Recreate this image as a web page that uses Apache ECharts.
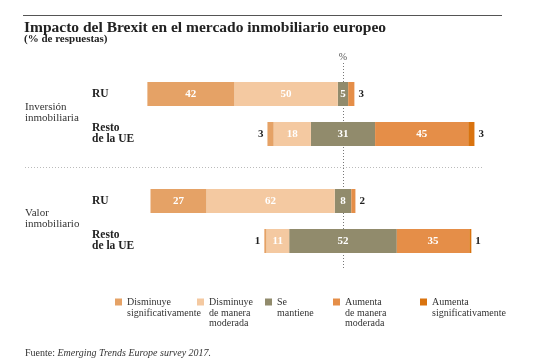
<!DOCTYPE html>
<html>
<head>
<meta charset="utf-8">
<script src="https://cdn.jsdelivr.net/npm/echarts@6/dist/echarts.min.js"></script>
<style>html,body{margin:0;padding:0;background:#fff}#c{width:555px;height:362px}</style>
</head>
<body>
<div id="c"></div>
<script>
const groups = ['Inversión\ninmobiliaria', 'Valor\ninmobiliario'];
const rows = ['RU', 'Resto\nde la UE'];
const seriesNames = ['Disminuye\nsignificativamente', 'Disminuye\nde manera\nmoderada', 'Se\nmantiene', 'Aumenta\nde manera\nmoderada', 'Aumenta\nsignificativamente'];
const colors = ['#E5A266', '#F4C9A1', '#918B6C', '#E58E48', '#D9730F'];
// order: Inversión-RU, Inversión-Resto UE, Valor-RU, Valor-Resto UE
const disminuyeSignif = [42, 3, 27, 1];
const disminuyeModer = [50, 18, 62, 11];
const seMantiene = [5, 31, 8, 52];
const aumentaModer = [3, 45, 2, 35];
const aumentaSignif = [0, 3, 0, 1];

const SERIF = 'Liberation Serif';
const chart = echarts.init(document.getElementById('c'), null, {renderer: 'canvas'});

function itemFor(v, sign) {
  const item = {value: sign * v};
  if (v === 0) { item.label = {show: false}; }
  else if (v <= 3) {
    item.label = {show: true, position: sign < 0 ? 'left' : 'right', distance: 4,
      color: '#222', fontWeight: 'bold'};
  } else {
    item.label = {show: true, position: 'inside', color: '#fff', fontWeight: 'bold'};
  }
  return item;
}

const grids = [], xAxes = [], yAxes = [], series = [];
for (let g = 0; g < 2; g++) {
  grids.push({left: 136, width: 414, top: g === 0 ? 74 : 181, height: 80});
  xAxes.push({gridIndex: g, type: 'value', min: -100, max: 100, show: false});
  yAxes.push({gridIndex: g, type: 'category', data: rows, inverse: true,
    axisLine: {show: false}, axisTick: {show: false}, splitLine: {show: false},
    axisLabel: {align: 'left', margin: 44, fontFamily: SERIF, fontWeight: 'bold', fontSize: 11.5,
      color: '#222', lineHeight: 11, padding: [4, 0, 0, 0]}});
  const idx = [2 * g, 2 * g + 1];
  const base = {type: 'bar', xAxisIndex: g, yAxisIndex: g, stack: 'tot' + g, barWidth: 24, zlevel: 1,
    silent: true, label: {fontFamily: SERIF, fontSize: 11, formatter: p => String(Math.abs(p.value))}};
  // negative side (nearest zero first)
  series.push(Object.assign({}, base, {name: 'sm-neg', itemStyle: {color: colors[2]},
    data: idx.map(i => ({value: -seMantiene[i] / 2, label: {show: false}}))}));
  series.push(Object.assign({}, base, {name: seriesNames[1], itemStyle: {color: colors[1]},
    data: idx.map(i => itemFor(disminuyeModer[i], -1))}));
  series.push(Object.assign({}, base, {name: seriesNames[0], itemStyle: {color: colors[0]},
    data: idx.map(i => itemFor(disminuyeSignif[i], -1))}));
  // positive side
  series.push(Object.assign({}, base, {name: seriesNames[2], itemStyle: {color: colors[2]},
    label: {show: true, position: [0, '50%'], align: 'center', verticalAlign: 'middle',
      fontFamily: SERIF, fontSize: 11, fontWeight: 'bold', color: '#fff',
      formatter: p => String(seMantiene[idx[p.dataIndex]])},
    data: idx.map(i => seMantiene[i] / 2)}));
  series.push(Object.assign({}, base, {name: seriesNames[3], itemStyle: {color: colors[3]},
    data: idx.map(i => itemFor(aumentaModer[i], 1))}));
  series.push(Object.assign({}, base, {name: seriesNames[4], itemStyle: {color: colors[4]},
    data: idx.map(i => itemFor(aumentaSignif[i], 1))}));
}

chart.setOption({
  animation: false,
  textStyle: {fontFamily: SERIF},
  grid: grids, xAxis: xAxes, yAxis: yAxes, series: series
});

const x0 = chart.convertToPixel({xAxisIndex: 0}, 0);
const graphics = [
  {type: 'line', shape: {x1: 23, y1: 15.5, x2: 502, y2: 15.5}, style: {stroke: '#555', lineWidth: 1}},
  {type: 'text', x: 24, y: 28, style: {text: 'Impacto del Brexit en el mercado inmobiliario europeo',
    font: 'bold 15.5px "' + SERIF + '"', fill: '#222', verticalAlign: 'middle'}},
  {type: 'text', x: 24, y: 39.5, style: {text: '(% de respuestas)',
    font: 'bold 11px "' + SERIF + '"', fill: '#222', verticalAlign: 'middle'}},
  {type: 'text', x: x0, y: 57, style: {text: '%', font: '10px "' + SERIF + '"', fill: '#555',
    align: 'center', verticalAlign: 'middle'}},
  {type: 'line', shape: {x1: x0 + 0.5, y1: 63, x2: x0 + 0.5, y2: 268}, style: {stroke: '#777', lineWidth: 1, lineDash: [1, 2]}},
  {type: 'line', shape: {x1: 25, y1: 167.5, x2: 482, y2: 167.5}, style: {stroke: '#bbb', lineWidth: 1, lineDash: [1, 2]}},
  {type: 'text', x: 25, y: 112.5, style: {text: groups[0], font: '11px "' + SERIF + '"', fill: '#333',
    lineHeight: 11, verticalAlign: 'middle'}},
  {type: 'text', x: 25, y: 219, style: {text: groups[1], font: '11px "' + SERIF + '"', fill: '#333',
    lineHeight: 11, verticalAlign: 'middle'}},
  {type: 'text', x: 25, y: 353, style: {
    text: '{r|Fuente: }{i|Emerging Trends Europe survey 2017.}', verticalAlign: 'middle',
    rich: {r: {fontFamily: SERIF, fontSize: 10, fill: '#333'},
           i: {fontFamily: SERIF, fontSize: 10, fontStyle: 'italic', fill: '#333'}}}}
];
const legendSq = [115, 197, 265, 333, 420];
seriesNames.forEach((n, i) => {
  graphics.push({type: 'rect', shape: {x: legendSq[i], y: 298.5, width: 7, height: 7}, style: {fill: colors[i]}});
  graphics.push({type: 'text', x: legendSq[i] + 12, y: 297.5, style: {text: n,
    font: '10px "' + SERIF + '"', fill: '#333', lineHeight: 10.5, verticalAlign: 'top'}});
});
chart.setOption({graphic: graphics});
</script>
</body>
</html>
